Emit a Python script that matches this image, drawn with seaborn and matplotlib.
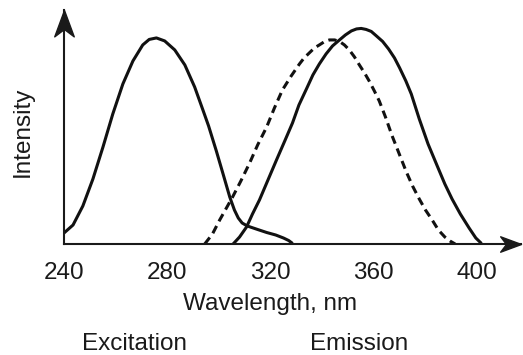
import numpy as np
import pandas as pd
import matplotlib
matplotlib.use("Agg")
import matplotlib.pyplot as plt
from matplotlib.path import Path
import seaborn as sns

# values (intensity in arbitrary units, emission peak ~ 1)
exc_nm = [240, 243.5, 247.3, 251.2, 255.1, 258.9, 262.8, 266.7, 270.5, 273,
          275.8, 279, 282.9, 286.8, 290.6, 293.8, 296, 299, 301.5, 304.2, 306,
          307.5, 309, 311, 315, 318.5, 322, 325, 327, 328.3]
exc_int = [11, 19, 38, 65, 97, 130, 160, 183, 199, 204.5, 206, 203, 194, 179,
           157, 134, 118, 93, 71, 47, 34, 26, 21, 18, 14.5, 11.5, 9, 6, 3.5, 1]

em_nm = [305.5, 308, 310.7, 313, 315.7, 319, 322.3, 325.5, 328.5, 331, 333.9,
         336.4, 338.9, 341.5, 344, 346.7, 349, 351.3, 353.3, 355.1, 357, 359,
         361, 363.4, 365.7, 368, 370, 372.4, 374.5, 377.6, 381, 384.4, 387.5,
         390.3, 393.5, 396.9, 399.5, 401.5]
em_int = [0, 7, 17, 30, 44, 64, 84, 103, 121, 139, 155, 169, 180, 190, 198,
          204, 209, 213, 215, 215.5, 214.5, 212.5, 208, 202.5, 195, 186, 176,
          163, 150, 125, 100, 79, 60, 45, 30, 16, 6, 1]

em2_nm = [294.5, 297.5, 300.3, 305.3, 308.5, 311.9, 315, 318.5, 321.5, 324.6,
          328, 331.2, 333, 335, 337, 338.9, 341, 342.8, 344.8, 346.7, 348.6,
          350.5, 352.5, 354.4, 356.4, 358.3, 360.2, 362.1, 364.5, 367.1, 370,
          372.6, 375, 377.6, 380, 382.6, 385, 387.5, 389.5, 391.5]
em2_int = [0, 10, 24, 47, 63, 81, 99, 117, 136, 154, 168, 180, 186, 191, 196,
           199, 202.5, 204, 204, 202.5, 199, 194, 187, 179, 171, 162.5, 153,
           143, 127, 108, 89, 72, 58, 45, 34, 24, 14, 7, 3, 0]

xticks = [240, 280, 320, 360, 400]

exc = pd.DataFrame({"nm": exc_nm, "I": np.array(exc_int) / 217})
em = pd.DataFrame({"nm": em_nm, "I": np.array(em_int) / 217})
em2 = pd.DataFrame({"nm": em2_nm, "I": np.array(em2_int) / 217})

sns.set_theme(style="white")
plt.rcParams["font.family"] = ["Liberation Sans", "DejaVu Sans"]
txt = "#1a1a1a"
fs = 17.5

fig = plt.figure(figsize=(5.23, 3.55), dpi=100)
ax = fig.add_axes([64 / 523, 111 / 355, (521 - 64) / 523, (345 - 111) / 355])

lw = 2.2
line_kw = dict(ax=ax, x="nm", y="I", color="#111111", lw=lw, sort=False,
               estimator=None, solid_joinstyle="round", dash_joinstyle="round")
sns.lineplot(data=exc, **line_kw)
sns.lineplot(data=em, **line_kw)
sns.lineplot(data=em2, linestyle=(0, (2.7, 1.7)), **line_kw)

ax.set_xlim(240, 417)
ax.set_ylim(0, 1.078)
ax.set_xticks(xticks)
ax.set_yticks([])
ax.set_xlabel("")
ax.set_ylabel("")
ax.tick_params(axis="x", direction="inout", length=9, width=1.5,
               colors="#1a1a1a", labelsize=fs, pad=8.5)
for s in ["top", "right"]:
    ax.spines[s].set_visible(False)
for s in ["left", "bottom"]:
    ax.spines[s].set_color("#1a1a1a")
    ax.spines[s].set_linewidth(1.5)

# arrow heads on the axes
right_head = Path([(0, 0), (-1, 0.37), (-0.72, 0), (-1, -0.37), (0, 0)],
                  [1, 2, 2, 2, 79])
up_head = Path([(0, 0), (0.37, -1), (0, -0.72), (-0.37, -1), (0, 0)],
               [1, 2, 2, 2, 79])
ax.plot([1], [0], marker=right_head, ms=30, color="#1a1a1a",
        transform=ax.transAxes, clip_on=False)
ax.plot([0], [1], marker=up_head, ms=38, color="#1a1a1a",
        transform=ax.transAxes, clip_on=False)

fig.text(270 / 523, 1 - 304 / 355, "Wavelength, nm", ha="center", va="center",
         fontsize=fs, color=txt)
fig.text(23 / 523, 1 - 132 / 355, "Intensity", ha="center", va="center",
         rotation=90, fontsize=fs, color=txt)
fig.text(134 / 523, 1 - 344 / 355, "Excitation", ha="center", va="center",
         fontsize=fs, color=txt)
fig.text(359 / 523, 1 - 344 / 355, "Emission", ha="center", va="center",
         fontsize=fs, color=txt)

fig.savefig("out.png", dpi=100)
